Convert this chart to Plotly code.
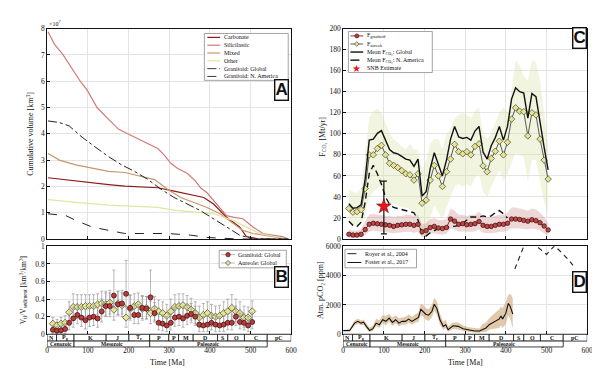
import plotly.graph_objects as go

SERIF = "Liberation Serif"
SANS = "Liberation Sans"

# ---------------- Panel A : cumulative volume (x1e7 km^3) ----------------
carb_t = [2, 70, 118, 151, 191, 231, 272, 312, 352, 385, 409, 441, 473, 490, 522, 593]
carb_v = [2.33, 2.2, 2.13, 2.07, 2.01, 1.97, 1.95, 1.82, 1.7, 1.58, 1.33, 0.83, 0.46, 0.09, 0.0, 0.0]
sil_t = [2, 18, 38, 58, 82, 98, 115, 123, 151, 175, 199, 223, 248, 272, 288, 304, 320, 344, 365, 377,
         393, 417, 441, 457, 481, 506, 530, 554, 578, 593]
sil_v = [7.88, 7.4, 7.03, 6.54, 5.98, 5.67, 5.17, 4.99, 4.55, 4.18, 3.99, 3.81, 3.62, 3.44, 3.19, 2.88,
         2.69, 2.5, 2.2, 1.95, 1.76, 1.33, 0.89, 0.83, 0.77, 0.46, 0.21, 0.15, 0.09, 0.0]
mix_t = [2, 30, 70, 110, 151, 191, 231, 264, 296, 328, 361, 393, 425, 457, 481, 506, 554, 593]
mix_v = [3.25, 3.0, 2.82, 2.69, 2.57, 2.53, 2.38, 2.26, 1.89, 1.58, 1.39, 1.2, 0.96, 0.58, 0.33, 0.21, 0.09, 0.0]
oth_t = [2, 70, 151, 231, 272, 312, 361, 409, 457, 490, 522, 593]
oth_v = [1.5, 1.39, 1.29, 1.24, 1.2, 1.1, 1.02, 0.96, 0.71, 0.46, 0.21, 0.0]
gg_t = [2, 30, 54, 86, 118, 151, 183, 215, 248, 280, 312, 344, 377, 409, 441, 473, 506, 593]
gg_v = [4.49, 4.43, 4.3, 3.87, 3.5, 3.13, 2.82, 2.57, 2.26, 1.89, 1.58, 1.33, 1.08, 0.77, 0.46, 0.15, 0.0, 0.0]
gna_t = [2, 46, 70, 110, 151, 191, 231, 296, 352, 393, 473, 593]
gna_v = [0.96, 0.89, 0.71, 0.46, 0.33, 0.21, 0.21, 0.21, 0.15, 0.06, 0.0, 0.0]

# ---------------- Time bins for panels B and C (Ma) ----------------
t_bins = [14, 24, 34, 44, 54, 64, 74, 84, 94, 104, 114, 124, 134, 144, 154, 164, 174, 184, 194, 204,
          214, 224, 234, 244, 254, 264, 274, 284, 294, 304, 314, 324, 334, 344, 354, 364, 374, 384, 394, 404,
          414, 424, 434, 444, 454, 464, 474, 484, 494, 504]

# ---------------- Panel B : volume ratios ----------------
ratio_gran = [0.05, 0.04, 0.045, 0.06, 0.13, 0.18, 0.22, 0.19, 0.16, 0.19, 0.2, 0.18, 0.26, 0.32, 0.32, 0.44,
              0.34, 0.35, 0.46, 0.30, 0.22, 0.22, 0.30, 0.29, 0.42, 0.24, 0.13, 0.12, 0.10, 0.13, 0.19, 0.20,
              0.18, 0.21, 0.23, 0.20, 0.11, 0.10, 0.11, 0.13, 0.11, 0.10, 0.11, 0.13, 0.13, 0.20, 0.14, 0.13,
              0.10, 0.14]
ratio_gran_up = [0.05, 0.05, 0.05, 0.06, 0.1, 0.12, 0.12, 0.12, 0.12, 0.12, 0.12, 0.12, 0.14, 0.15, 0.15, 0.29,
                 0.15, 0.15, 0.38, 0.15, 0.12, 0.12, 0.14, 0.14, 0.31, 0.12, 0.1, 0.1, 0.1, 0.1, 0.12, 0.12,
                 0.12, 0.12, 0.12, 0.12, 0.1, 0.1, 0.1, 0.1, 0.1, 0.1, 0.1, 0.1, 0.1, 0.12, 0.1, 0.1, 0.1, 0.1]
ratio_gran_dn = [0.04, 0.03, 0.035, 0.05, 0.08, 0.1, 0.1, 0.1, 0.1, 0.1, 0.1, 0.1, 0.12, 0.12, 0.12, 0.14,
                 0.12, 0.12, 0.15, 0.12, 0.1, 0.1, 0.12, 0.12, 0.15, 0.1, 0.08, 0.08, 0.07, 0.08, 0.1, 0.1,
                 0.1, 0.1, 0.1, 0.1, 0.08, 0.07, 0.08, 0.08, 0.08, 0.07, 0.08, 0.08, 0.08, 0.1, 0.08, 0.08,
                 0.07, 0.08]
ratio_aur = [0.12, 0.10, 0.12, 0.13, 0.25, 0.31, 0.31, 0.31, 0.32, 0.32, 0.32, 0.34, 0.35, 0.34, 0.36, 0.28,
             0.35, 0.33, 0.19, 0.29, 0.32, 0.34, 0.29, 0.30, 0.24, 0.29, 0.26, 0.24, 0.21, 0.26, 0.31, 0.32,
             0.33, 0.31, 0.28, 0.24, 0.19, 0.22, 0.24, 0.21, 0.20, 0.21, 0.24, 0.26, 0.30, 0.26, 0.24, 0.19,
             0.19, 0.26]
ratio_aur_up = [0.07, 0.07, 0.07, 0.08, 0.12, 0.15, 0.14, 0.14, 0.13, 0.13, 0.13, 0.12, 0.14, 0.15, 0.14, 0.14,
                0.14, 0.14, 0.13, 0.15, 0.14, 0.13, 0.14, 0.13, 0.14, 0.14, 0.13, 0.13, 0.13, 0.14, 0.14, 0.14,
                0.13, 0.13, 0.13, 0.13, 0.13, 0.13, 0.13, 0.13, 0.12, 0.12, 0.13, 0.14, 0.15, 0.14, 0.13, 0.13,
                0.12, 0.12]
ratio_aur_dn = [0.06, 0.06, 0.06, 0.07, 0.1, 0.13, 0.13, 0.13, 0.12, 0.12, 0.12, 0.11, 0.13, 0.13, 0.13, 0.12,
                0.13, 0.13, 0.11, 0.13, 0.13, 0.12, 0.13, 0.12, 0.12, 0.13, 0.12, 0.12, 0.11, 0.12, 0.13, 0.13,
                0.12, 0.12, 0.12, 0.12, 0.11, 0.12, 0.12, 0.12, 0.11, 0.11, 0.12, 0.12, 0.13, 0.12, 0.12, 0.11,
                0.11, 0.11]

# ---------------- Panel C : CO2 fluxes (Mt/yr) ----------------
f_gran = [4.5, 3.8, 3.8, 4.5, 9, 14, 15, 14.5, 14, 13.5, 13, 12, 13, 13.5, 14, 14, 13, 14, 7, 8,
          11, 12, 10.5, 10, 11, 19, 17, 14, 14.6, 13.6, 14, 14.6, 16.7, 13, 12, 12, 13, 14, 14, 15,
          19, 19, 18.6, 17.7, 17, 18.3, 17.4, 15.5, 12.4, 8.7]
f_gran_hi = [9, 8, 8, 9, 17, 23, 24, 23, 23, 22, 22, 21, 22, 22, 23, 23, 22, 23, 14, 15,
             19, 20, 18, 18, 19, 29, 27, 23, 23, 22, 23, 23, 26, 22, 21, 21, 22, 23, 23, 25,
             30, 30, 29, 28, 27, 29, 28, 25, 21, 15]
f_gran_lo = [1.5, 1, 1, 1.5, 4, 7, 8, 7.5, 7, 6.5, 6, 5.5, 6, 6.5, 7, 7, 6, 7, 2, 2.5,
             5, 5.5, 4.5, 4, 5, 10, 9, 7, 7.5, 7, 7, 7.5, 9, 6, 5.5, 5.5, 6, 7, 7, 8,
             10, 10, 10, 9.5, 9, 10, 9.5, 8, 5.5, 3.5]
f_aur = [29, 25.5, 26, 28, 48, 80, 80, 86, 89, 80, 72, 70, 68, 65, 62, 61, 56, 62, 34, 37,
         56, 70, 60, 50, 64, 76, 90, 83, 81, 83, 80, 88, 90.5, 69.5, 64, 76.6, 83.4, 93, 80, 92,
         114, 124.7, 121.5, 121, 98, 120, 118, 95, 75, 57]
f_aur_hi = [47, 45, 44, 48, 80, 115, 122, 124, 120, 110, 100, 95, 92, 88, 85, 90, 85, 85, 65, 75,
            90, 95, 95, 85, 100, 105, 115, 118, 120, 118, 115, 122, 125, 100, 95, 100, 110, 120, 125, 120,
            140, 170, 165, 155, 150, 170, 168, 150, 120, 90]
f_aur_lo = [15, 12, 12, 14, 22, 40, 45, 48, 50, 42, 35, 33, 33, 30, 30, 28, 25, 22, 5, 5,
            20, 32, 25, 18, 30, 40, 50, 52, 50, 52, 50, 58, 62, 45, 40, 50, 58, 65, 55, 62,
            72, 82, 80, 78, 55, 75, 75, 55, 35, 25]
f_global = [33.5, 29.3, 29.8, 32.5, 57, 94, 95, 100.5, 103, 93.5, 85, 82, 81, 78.5, 76, 75, 69, 76, 41, 45,
            67, 82, 70.5, 60, 75, 95, 107, 97, 95.6, 96.6, 94, 102.6, 107, 82.5, 76, 88.6, 96.4, 107, 94, 107,
            133, 143.7, 140, 138.7, 115, 138.3, 135.4, 110.5, 87.4, 65.7]
na_t = [14, 24, 34, 44, 54, 64, 74, 84, 94, 104, 114, 124, 134, 144, 154, 164, 174, 184, 194, 204,
        214, 224, 234, 244, 254, 264, 274, 284, 294, 304, 314, 324, 334, 344, 354, 364, 374, 384, 394, 404]
f_na = [17, 13, 12, 16, 35, 62, 70, 62, 52, 40, 33, 30, 29, 28, 27, 26, 25, 18, 4, 3,
        6, 8, 10, 10, 11, 12, 12, 13, 15, 18, 21, 21, 21, 22, 21, 22, 25, 27, 24, 20]
snb_t = [100]
snb_v = [31]
snb_up = [24]
snb_dn = [26]

# ---------------- Panel D : atmospheric pCO2 (ppm) ----------------
royer_t = [422, 436, 444, 455, 465, 476, 488, 500, 512, 520, 528, 544, 556, 565]
royer_v = [4450, 5370, 6000, 6400, 6400, 6000, 5700, 5450, 5820, 6050, 5820, 5370, 5030, 4700]
foster_t = [0, 6, 16, 28, 36, 44, 50, 57, 65, 73, 81, 89, 97, 105, 113, 121, 129, 137, 145, 153, 161, 169,
            177, 185, 191, 197, 203, 210, 218, 224, 230, 238, 246, 252, 258, 270, 283, 295, 307, 323, 335,
            343, 351, 359, 367, 375, 384, 388, 392, 400, 406, 410, 414, 417]
foster_v = [250, 250, 260, 760, 880, 760, 830, 540, 260, 380, 760, 650, 990, 880, 1100, 810, 990, 760, 880,
            880, 1030, 880, 1030, 1150, 1700, 1550, 1370, 1300, 1550, 2050, 1780, 990, 540, 650, 310, 580,
            540, 380, 290, 220, 220, 350, 430, 650, 760, 900, 1050, 1250, 1050, 1440, 2100, 1950, 1550, 1380]
foster_hi = [300, 320, 380, 950, 1050, 950, 1000, 750, 450, 600, 1050, 950, 1300, 1250, 1400, 1150, 1300, 1100,
             1150, 1200, 1350, 1200, 1350, 1500, 2100, 2000, 1800, 1700, 2000, 2500, 2250, 1400, 850, 1000, 550,
             800, 800, 600, 480, 420, 400, 700, 800, 1100, 1300, 1500, 1700, 1900, 1800, 2200, 2700, 2750, 2650,
             2400]
foster_lo = [200, 190, 170, 600, 720, 600, 650, 380, 160, 220, 550, 430, 750, 620, 850, 560, 750, 530, 650,
             650, 780, 650, 780, 850, 1300, 1200, 1000, 900, 1150, 1600, 1350, 650, 300, 420, 150, 350, 330,
             220, 160, 120, 80, 150, 150, 300, 350, 400, 450, 600, 450, 700, 1300, 1100, 700, 400]

# ---------------- Geologic time scale ----------------
period_bounds = [0, 23, 66, 145, 201, 252, 299, 323, 359, 419, 444, 485, 541, 600]
period_labels = ["N", "P<sub>g</sub>", "K", "J", "T<sub>r</sub>", "P", "P", "M", "D", "S", "O", "C", "pC"]
era_bounds = [0, 66, 252, 541]
era_labels = ["Cenozoic", "Mesozoic", "Paleozoic"]

# colours
C_CARB, C_SIL, C_MIX, C_OTH = "#8e1b1b", "#d27a7a", "#c9976b", "#e4e4a2"
C_RED_M, C_YEL_M = "#c04444", "#e6e48e"

W, H = 600, 383
def fx(p):
    return p / W
def fy(p):
    return 1 - p / H

fig = go.Figure()

# ---- Panel A traces
lineA = [
    ("Carbonate", carb_t, carb_v, C_CARB, "solid", 1.2),
    ("Silicilastic", sil_t, sil_v, C_SIL, "solid", 1.2),
    ("Mixed", mix_t, mix_v, C_MIX, "solid", 1.2),
    ("Other", oth_t, oth_v, C_OTH, "solid", 1.2),
    ("Granitoid: Global", gg_t, gg_v, "#222222", "dashdot", 1.0),
    ("Granitoid: N. America", gna_t, gna_v, "#222222", "dash", 1.0),
]
for name, tt, vv, col, dash, w in lineA:
    fig.add_trace(go.Scatter(x=tt, y=vv, mode="lines", name=name, xaxis="x", yaxis="y",
                             line=dict(color=col, dash=dash, width=w)))

# ---- Panel B traces
fig.add_trace(go.Scatter(x=t_bins, y=ratio_aur, mode="markers", name="Aureole: Global", xaxis="x2", yaxis="y2",
                         marker=dict(symbol="diamond", size=5.5, color=C_YEL_M, line=dict(color="#444", width=0.7)),
                         error_y=dict(type="data", array=ratio_aur_up, arrayminus=ratio_aur_dn, color="#9a9a9a",
                                      thickness=0.7, width=1.5)))
fig.add_trace(go.Scatter(x=t_bins, y=ratio_gran, mode="markers", name="Granitoid: Global", xaxis="x2", yaxis="y2",
                         marker=dict(symbol="circle", size=5, color="#b83c3c", line=dict(color="#3a0a0a", width=0.7)),
                         error_y=dict(type="data", array=ratio_gran_up, arrayminus=ratio_gran_dn, color="#9a9a9a",
                                      thickness=0.7, width=1.5)))

# ---- Panel C traces
fig.add_trace(go.Scatter(x=t_bins + t_bins[::-1], y=f_aur_hi + f_aur_lo[::-1], fill="toself", mode="none",
                         fillcolor="rgba(214,224,160,0.35)", xaxis="x3", yaxis="y3", hoverinfo="skip"))
fig.add_trace(go.Scatter(x=t_bins + t_bins[::-1], y=f_gran_hi + f_gran_lo[::-1], fill="toself", mode="none",
                         fillcolor="rgba(200,130,130,0.32)", xaxis="x3", yaxis="y3", hoverinfo="skip"))
fig.add_trace(go.Scatter(x=na_t, y=f_na, mode="lines", name="Mean F_CO2: N. America",
                         line=dict(color="#111", dash="6px,4px", width=1.4), xaxis="x3", yaxis="y3"))
fig.add_trace(go.Scatter(x=t_bins, y=f_aur, mode="lines+markers", name="F_aureole",
                         line=dict(color="#333", width=0.8),
                         marker=dict(symbol="diamond", size=5, color=C_YEL_M, line=dict(color="#444", width=0.7)),
                         xaxis="x3", yaxis="y3"))
fig.add_trace(go.Scatter(x=t_bins, y=f_global, mode="lines", name="Mean F_CO2: Global",
                         line=dict(color="#111", width=1.4), xaxis="x3", yaxis="y3"))
fig.add_trace(go.Scatter(x=t_bins, y=f_gran, mode="lines+markers", name="F_granitoid",
                         line=dict(color="#4a1010", width=0.8),
                         marker=dict(symbol="circle", size=4.5, color=C_RED_M, line=dict(color="#3a0a0a", width=0.7)),
                         xaxis="x3", yaxis="y3"))
fig.add_trace(go.Scatter(x=snb_t, y=snb_v, mode="markers", name="SNB Estimate",
                         marker=dict(symbol="star", size=11, color="#e8141e", line=dict(color="#8a0000", width=0.6)),
                         error_y=dict(type="data", array=snb_up, arrayminus=snb_dn, color="#111", thickness=1.2, width=3),
                         xaxis="x3", yaxis="y3"))

# ---- Panel D traces
fig.add_trace(go.Scatter(x=foster_t + foster_t[::-1], y=foster_hi + foster_lo[::-1], fill="toself", mode="none",
                         fillcolor="rgba(205,165,115,0.6)", xaxis="x4", yaxis="y4", hoverinfo="skip"))
fig.add_trace(go.Scatter(x=royer_t, y=royer_v, mode="lines", name="Royer et al., 2004",
                         line=dict(color="#222", dash="5px,4px", width=1.1), xaxis="x4", yaxis="y4"))
fig.add_trace(go.Scatter(x=foster_t, y=foster_v, mode="lines", name="Foster et al., 2017",
                         line=dict(color="#111", width=1.1), xaxis="x4", yaxis="y4"))

# ---- axes
XL = [fx(37.7), fx(285)]
XR = [fx(337.7), fx(585)]
YT = [fy(232.5), fy(17)]
YB = [fy(330), fy(240)]

def ax(**kw):
    d = dict(showline=True, linecolor="#111", linewidth=0.9, mirror=True, ticks="inside", ticklen=3,
             tickcolor="#111", tickwidth=0.7, showgrid=True, gridcolor="#e4e4e4", gridwidth=0.6,
             zeroline=False, tickfont=dict(family=SERIF, size=7.5, color="#111"), fixedrange=True)
    d.update(kw)
    return d

xt = dict(range=[0, 600], tickvals=[0, 100, 200, 300, 400, 500, 600])
fig.update_layout(
    showlegend=False,
    xaxis=ax(domain=XL, anchor="y", showticklabels=False, **xt),
    yaxis=ax(domain=YT, anchor="x", range=[0, 8], dtick=1),
    xaxis2=ax(domain=XL, anchor="y2", ticklabelstandoff=9, **xt),
    yaxis2=ax(domain=YB, anchor="x2", range=[0, 1], tickvals=[0, 0.2, 0.4, 0.6, 0.8, 1],
              ticktext=["0", "0.2", "0.4", "0.6", "0.8", "1"]),
    xaxis3=ax(domain=XR, anchor="y3", showticklabels=False, **xt),
    yaxis3=ax(domain=YT, anchor="x3", range=[0, 200], dtick=20),
    xaxis4=ax(domain=XR, anchor="y4", ticklabelstandoff=9, **xt),
    yaxis4=ax(domain=YB, anchor="x4", range=[0, 6000], tickvals=[0, 2000, 4000, 6000],
              ticktext=["0", "2000", "4000", "6000"]),
)

shapes = []
annos = []

# ---- geologic timescale bars under panels B and D
r1 = (fy(337), fy(330))
r2 = (fy(343), fy(337))
for xr in ["x2", "x4"]:
    for i in range(len(period_labels)):
        a, b = period_bounds[i], period_bounds[i + 1]
        shapes.append(dict(type="rect", xref=xr, yref="paper", x0=a, x1=b, y0=r1[0], y1=r1[1],
                           line=dict(color="#111", width=0.8), fillcolor="white", layer="above"))
        annos.append(dict(xref=xr, yref="paper", x=(a + b) / 2, y=(r1[0] + r1[1]) / 2,
                          text="<b>%s</b>" % period_labels[i], showarrow=False,
                          font=dict(family=SERIF, size=6, color="#111"), yanchor="middle"))
    for i in range(len(era_labels)):
        a, b = era_bounds[i], era_bounds[i + 1]
        shapes.append(dict(type="rect", xref=xr, yref="paper", x0=a, x1=b, y0=r2[0], y1=r2[1],
                           line=dict(color="#111", width=0.8), fillcolor="white", layer="above"))
        annos.append(dict(xref=xr, yref="paper", x=(a + b) / 2, y=(r2[0] + r2[1]) / 2,
                          text="<b>%s</b>" % era_labels[i], showarrow=False,
                          font=dict(family=SERIF, size=5.5, color="#111"), yanchor="middle"))

# ---- compact MATLAB-style legends (drawn as shapes + text)
def legend_box(x0, y0, x1, y1):
    shapes.append(dict(type="rect", xref="paper", yref="paper", x0=fx(x0), x1=fx(x1), y0=fy(y1), y1=fy(y0),
                       line=dict(color="#666", width=0.6), fillcolor="white", layer="above"))

def leg_line(x0, x1, y, color, dash="solid", width=1.1):
    shapes.append(dict(type="line", xref="paper", yref="paper", x0=fx(x0), x1=fx(x1), y0=fy(y), y1=fy(y),
                       line=dict(color=color, dash=dash, width=width), layer="above"))

def leg_circle(cx, cy, r, fill, edge):
    shapes.append(dict(type="circle", xref="paper", yref="paper", x0=fx(cx - r), x1=fx(cx + r),
                       y0=fy(cy + r), y1=fy(cy - r), line=dict(color=edge, width=0.7), fillcolor=fill,
                       layer="above"))

def leg_diamond(cx, cy, r, fill, edge):
    path = "M %f,%f L %f,%f L %f,%f L %f,%f Z" % (fx(cx), fy(cy - r), fx(cx + r), fy(cy), fx(cx), fy(cy + r),
                                                fx(cx - r), fy(cy))
    shapes.append(dict(type="path", xref="paper", yref="paper", path=path, line=dict(color=edge, width=0.7),
                       fillcolor=fill, layer="above"))

def leg_text(x, y, text, size=6):
    annos.append(dict(xref="paper", yref="paper", x=fx(x), y=fy(y), text=text, showarrow=False,
                      xanchor="left", yanchor="middle", font=dict(family=SERIF, size=size, color="#111")))

# legend A
legend_box(197, 22, 282, 70)
itemsA = [("Carbonate", C_CARB, "solid", 1.2), ("Silicilastic", C_SIL, "solid", 1.2),
          ("Mixed", C_MIX, "solid", 1.2), ("Other", C_OTH, "solid", 1.2),
          ("Granitoid: Global", "#222", "dashdot", 0.9), ("Granitoid: N. America", "#222", "dash", 0.9)]
for i, (lab, col, dash, w) in enumerate(itemsA):
    yy = 26 + 8 * i
    leg_line(200, 213, yy, col, dash, w)
    leg_text(214.5, yy, lab)

# legend B
legend_box(212, 244, 280, 262)
leg_line(214, 228, 248.5, "#9a9a9a", "solid", 0.7)
leg_circle(221, 248.5, 2.2, "#b83c3c", "#3a0a0a")
leg_text(229.5, 248.5, "Granitoid: Global")
leg_line(214, 228, 257, "#9a9a9a", "solid", 0.7)
leg_diamond(221, 257, 2.6, C_YEL_M, "#444")
leg_text(229.5, 257, "Aureole: Global")

# legend C
legend_box(343, 20, 428, 62)
ys = [24.5, 32.8, 41, 49.3, 57.5]
leg_line(345, 358, ys[0], "#4a1010", "solid", 0.8)
leg_circle(351.5, ys[0], 2.0, C_RED_M, "#3a0a0a")
leg_text(359.5, ys[0], "F<sub>granitoid</sub>")
leg_line(345, 358, ys[1], "#333", "solid", 0.8)
leg_diamond(351.5, ys[1], 2.4, C_YEL_M, "#444")
leg_text(359.5, ys[1], "F<sub>aureole</sub>")
leg_line(345, 358, ys[2], "#111", "solid", 1.4)
leg_text(359.5, ys[2], "Mean F<sub>CO₂</sub>: Global")
leg_line(345, 358, ys[3], "#111", "dash", 1.4)
leg_text(359.5, ys[3], "Mean F<sub>CO₂</sub>: N. America")
annos.append(dict(xref="paper", yref="paper", x=fx(351.5), y=fy(ys[4]), text="★", showarrow=False,
                  xanchor="center", yanchor="middle", font=dict(family="DejaVu Sans", size=10, color="#e8141e")))
leg_text(359.5, ys[4], "SNB Estimate")

# legend D
legend_box(339.5, 243, 412, 262)
leg_line(342, 356, 247.5, "#222", "dash", 1.0)
leg_text(358, 247.5, "Royer et al., 2004")
leg_line(342, 356, 256.5, "#111", "solid", 1.0)
leg_text(358, 256.5, "Foster et al., 2017")

# ---- panel letters
for letter, cx, cy in [("A", 275, 80), ("B", 275, 271), ("C", 577, 27), ("D", 577, 277)]:
    annos.append(dict(xref="paper", yref="paper", x=fx(cx), y=fy(cy), text="<b>%s</b>" % letter, showarrow=False,
                      font=dict(family=SANS, size=17, color="#111"), bgcolor="white", bordercolor="#111",
                      borderwidth=1.4, borderpad=0, xanchor="center", yanchor="middle"))

# ---- axis titles
def title(text, x, y, angle=0, size=8):
    annos.append(dict(xref="paper", yref="paper", x=fx(x), y=fy(y), text=text, showarrow=False, textangle=angle,
                      font=dict(family=SERIF, size=size, color="#111"), xanchor="center", yanchor="middle"))

title("Cumulative volume [km<sup>3</sup>]", 20, 125, -90)
title("V<sub>tl</sub>/V<sub>sediment</sub> [km<sup>3</sup>/km<sup>3</sup>]", 13, 285, -90, 7.5)
title("F<sub>CO₂</sub> [Mt/yr]", 317, 128, -90)
title("Atm. pCO₂ [ppm]", 315, 285, -90)
title("Time [Ma]", 160, 359)
title("Time [Ma]", 462, 359)
annos.append(dict(xref="paper", yref="paper", x=fx(38), y=fy(11), text="×10<sup>7</sup>", showarrow=False,
                  font=dict(family=SERIF, size=6, color="#111"), xanchor="left", yanchor="middle"))

fig.update_layout(shapes=shapes, annotations=annos, width=W, height=H, autosize=False,
                  margin=dict(l=0, r=0, t=0, b=0), paper_bgcolor="white", plot_bgcolor="white")

fig.write_html("out.html")
